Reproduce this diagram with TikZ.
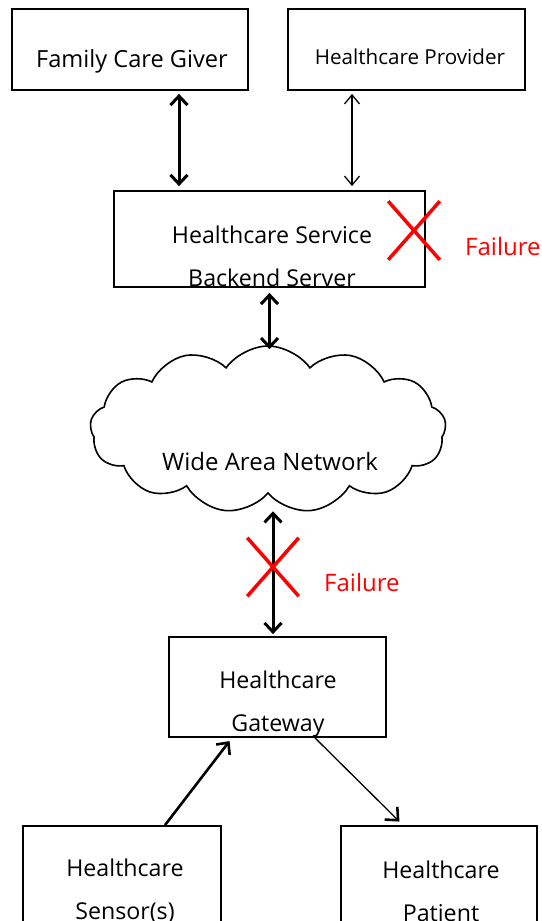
\documentclass[tikz,border=0pt]{standalone}
\usepackage{fontspec}
\setmainfont{Open Sans}
\usetikzlibrary{arrows.meta, positioning, shapes.symbols, shapes.misc}
\tikzstyle{unit}=[rectangle, draw=black, line width=1.8pt, inner sep=0pt]
\tikzstyle{caption}=[align=center, inner sep=0pt, font=\fontsize{23.2}{43}\selectfont]
\tikzstyle{wan}=[cloud, draw=black, line width=1.6pt, cloud puffs=13, cloud puff arc=110, aspect=2.1, inner sep=0pt]
\tikzstyle{fail}=[cross out, draw=red, line width=3.5pt, minimum width=48pt, minimum height=55pt, inner sep=0pt]
\tikzstyle{failtext}=[anchor=west, text=red, inner sep=0pt, font=\fontsize{24}{28}\selectfont]
\tikzstyle{link}=[{Straight Barb[length=9pt,width=17pt]}-{Straight Barb[length=9pt,width=17pt]}, line width=3pt]
\tikzstyle{thinlink}=[{Straight Barb[length=9pt,width=15pt]}-{Straight Barb[length=9pt,width=15pt]}, line width=1.3pt]
\tikzstyle{uplink}=[-{Straight Barb[length=9pt,width=17pt]}, line width=2.6pt]

\begin{document}
\begin{tikzpicture}[x=1pt, y=-1pt]
\clip (0,0) rectangle (541,921);

% Users
\node[unit, minimum width=236pt, minimum height=81pt] (giver) at (130,49.5) {};
\node[caption, font=\fontsize{23.6}{28}\selectfont] (giverlbl) at (132,61) {Family Care Giver};
\node[unit, minimum width=237pt, minimum height=81pt] (provider) at (406.5,49.5) {};
\node[caption, font=\fontsize{20.6}{24}\selectfont] (providerlbl) at (410,57) {Healthcare Provider};

% Backend
\node[unit, minimum width=311pt, minimum height=96pt] (backend) at (269.5,239) {};
\node[caption] (backendlbl) at (272,256) {Healthcare Service\\Backend Server};

% Network
\node[wan, minimum width=356pt, minimum height=167pt] (wan) at (268,429.5) {};
\node[caption, font=\fontsize{24}{28}\selectfont] (wanlbl) at (270,461) {Wide Area Network};

% Gateway
\node[unit, minimum width=217pt, minimum height=100pt] (gateway) at (277.5,687) {};
\node[caption] (gatewaylbl) at (278,704) {Healthcare\\Gateway};

% Sensor and patient
\node[unit, minimum width=198pt, minimum height=164pt] (sensor) at (122,908) {};
\node[caption] (sensorlbl) at (125,891) {Healthcare\\Sensor(s)};
\node[unit, minimum width=196pt, minimum height=164pt] (patient) at (439,908) {};
\node[caption] (patientlbl) at (441,891) {Healthcare\\Patient};

% Links
\coordinate (c1) at (179,0);
\coordinate (c2) at (352,0);
\coordinate (c3) at (273,0);
\draw[link, shorten <=3pt, shorten >=4pt] (c1 |- giver.south) -- (c1 |- backend.north);
\draw[thinlink, shorten <=3pt, shorten >=4pt] (c2 |- provider.south) -- (c2 |- backend.north);
\draw[link, shorten <=5pt, shorten >=-4pt] (backend.south) -- (backend.south |- wan.north);
\draw[link, shorten <=17pt, shorten >=2pt] (c3 |- wan.south) -- (c3 |- gateway.north);
\draw[uplink, shorten >=4pt] ([xshift=43pt]sensor.north) -- ([xshift=-45.5pt]gateway.south);
\draw[-{Straight Barb[length=10pt,width=18pt,line width=2.6pt 0]}, line width=1.3pt, shorten >=5pt] ([xshift=37.5pt]gateway.south) -- ([xshift=-36pt]patient.north);

% Failures
\node[fail] (cut1) at (414,230.5) {};
\node[failtext] (fail1) at (465,246) {Failure};
\node[fail] (cut2) at (273,567) {};
\node[failtext] (fail2) at (324,582) {Failure};

\end{tikzpicture}
\end{document}
